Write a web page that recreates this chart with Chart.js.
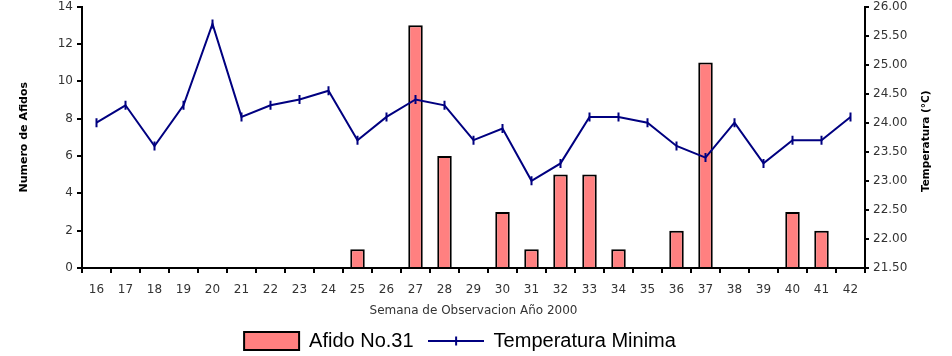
<!DOCTYPE html>
<html><head><meta charset="utf-8">
<style>html,body{margin:0;padding:0;background:#fff;}#wrap{width:952px;height:356px;position:relative;}</style>
<script src="https://cdn.jsdelivr.net/npm/chart.js@4/dist/chart.umd.min.js"></script>
</head><body><div id="wrap"><canvas id="c" width="952" height="356"></canvas></div>
<script>
const weeks = ['16','17','18','19','20','21','22','23','24','25','26','27','28','29','30','31','32','33','34','35','36','37','38','39','40','41','42'];
const afidos = [0,0,0,0,0,0,0,0,0,1,0,13,6,0,3,1,5,5,1,0,2,11,0,0,3,2,0];
const tempMin = [24.0,24.3,23.6,24.3,25.7,24.1,24.3,24.4,24.55,23.7,24.1,24.4,24.3,23.7,23.9,23.0,23.3,24.1,24.1,24.0,23.6,23.4,24.0,23.3,23.7,23.7,24.1];
const leftTicks = [0,2,4,6,8,10,12,14];
const rightTicks = [21.5,22,22.5,23,23.5,24,24.5,25,25.5,26];
const seriesNames = ['Afido No.31','Temperatura Minima'];
const xTitle = 'Semana de Observacion Año 2000';
const yTitle = 'Numero de Afidos';
const y1Title = 'Temperatura (°C)';

const navy = '#000080';
const pink = '#FF8080';

function lineIcon(){
  const c = document.createElement('canvas');
  c.width = 56; c.height = 18;
  const g = c.getContext('2d');
  g.strokeStyle = navy; g.lineWidth = 2;
  g.beginPath(); g.moveTo(0,9); g.lineTo(56,9); g.stroke();
  g.beginPath(); g.moveTo(28,4.5); g.lineTo(28,13.5); g.stroke();
  return c;
}
const icon = lineIcon();

Chart.defaults.font.family = 'DejaVu Sans';
Chart.defaults.font.size = 12;
Chart.defaults.color = '#333';

const axisGrid = {drawOnChartArea:false, drawTicks:true, tickLength:5, color:'#000', lineWidth:2};
const axisBorder = {color:'#000', width:2};

const rightTitlePlugin = {
  id:'rightTitle',
  afterDraw(chart){
    const ctx = chart.ctx;
    const a = chart.chartArea;
    ctx.save();
    ctx.translate(926, (a.top + a.bottom)/2 + 4);
    ctx.rotate(-Math.PI/2);
    ctx.font = 'bold 10.5px "DejaVu Sans"';
    ctx.fillStyle = '#000';
    ctx.textAlign = 'center';
    ctx.textBaseline = 'middle';
    ctx.fillText(y1Title, 0, 0);
    ctx.restore();
  }
};

new Chart(document.getElementById('c'), {
  data: {
    labels: weeks,
    datasets: [
      {type:'bar', label:seriesNames[0], data:afidos, yAxisID:'y', order:1,
       backgroundColor:pink, borderColor:'#000', borderWidth:2,
       barPercentage:0.5, categoryPercentage:1.0},
      {type:'line', label:seriesNames[1], data:tempMin, yAxisID:'y1', order:0,
       borderColor:navy, backgroundColor:navy, borderWidth:2, tension:0, fill:false,
       pointStyle:'line', pointRotation:90, pointRadius:4.5, pointBorderWidth:2,
       pointBorderColor:navy, pointBackgroundColor:navy}
    ]
  },
  options: {
    responsive:false, animation:false, devicePixelRatio:1,
    layout:{padding:{left:0,right:32,top:0,bottom:-5}},
    plugins:{
      tooltip:{enabled:false},
      legend:{
        position:'bottom',
        labels:{
          usePointStyle:true, pointStyleWidth:55, boxHeight:18, padding:15,
          color:'#000', font:{family:'Liberation Sans', size:20},
          sort:(a,b)=>a.datasetIndex-b.datasetIndex,
          generateLabels(chart){
            const items = Chart.defaults.plugins.legend.labels.generateLabels(chart);
            items.forEach(it=>{
              if (it.datasetIndex === 1) { it.pointStyle = icon; it.rotation = 0; }
              else { it.pointStyle = 'rect'; it.fillStyle = pink; it.strokeStyle = '#000'; it.lineWidth = 2; it.rotation = 0; }
            });
            return items;
          }
        }
      }
    },
    scales:{
      x:{
        type:'category', offset:true,
        grid:Object.assign({offset:true}, axisGrid), border:axisBorder,
        ticks:{padding:10, maxRotation:0, autoSkip:false, color:'#333'},
        title:{display:true, text:xTitle, color:'#333', font:{size:12}, padding:{top:0,bottom:-2}},
        afterFit(s){ s.height = 48; }
      },
      y:{
        position:'left', min:0, max:14,
        afterBuildTicks(s){ s.ticks = leftTicks.map(v=>({value:v})); },
        grid:axisGrid, border:axisBorder,
        ticks:{padding:4, color:'#333'},
        title:{display:true, text:yTitle, color:'#000', font:{size:11, weight:'bold'}, padding:{top:18,bottom:0}},
        afterFit(s){ s.width = 82; s.paddingTop = 6; }
      },
      y1:{
        position:'right', min:21.5, max:26,
        afterBuildTicks(s){ s.ticks = rightTicks.map(v=>({value:v})); },
        grid:Object.assign({}, axisGrid, {tickLength:4}), border:axisBorder,
        ticks:{padding:4, color:'#333', callback:(v)=>Number(v).toFixed(2)},
        afterFit(s){ s.width = 55; s.paddingTop = 6; }
      }
    }
  },
  plugins:[rightTitlePlugin]
});
</script>
</body></html>
